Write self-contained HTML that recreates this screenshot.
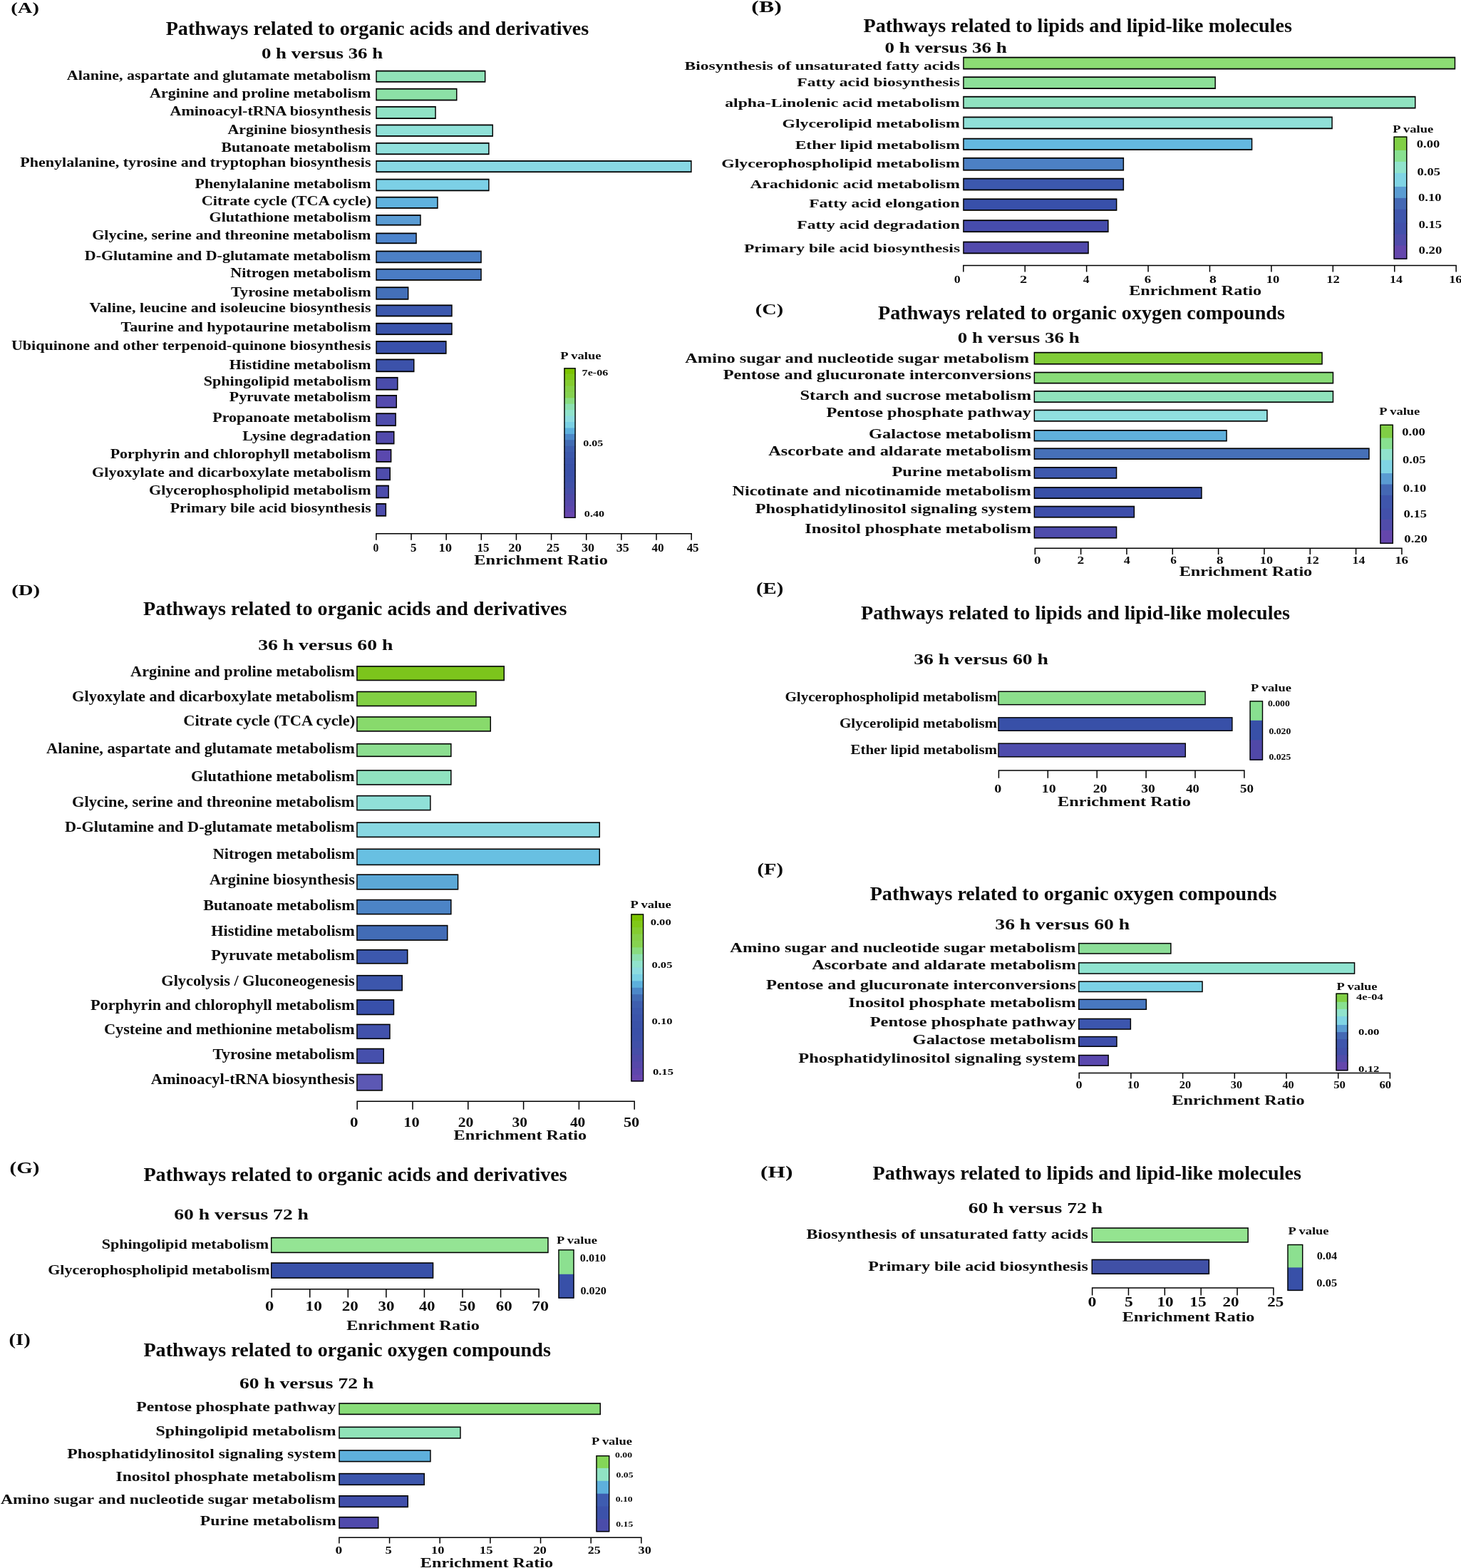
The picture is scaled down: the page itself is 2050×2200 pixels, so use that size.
<!DOCTYPE html>
<html lang="en"><head><meta charset="utf-8"><title>Pathway enrichment analysis</title>
<style>
html,body{margin:0;padding:0;background:#fff}
body{width:2050px;height:2200px;overflow:hidden}
svg{display:block;filter:blur(0.45px);font-family:"Liberation Serif","DejaVu Serif",serif;font-weight:bold;fill:#0a0a0a}
</style></head><body>
<svg width="2050" height="2200" viewBox="0 0 2050 2200">
<rect width="2050" height="2200" fill="#fff"/>
<text transform="translate(15.32 17.50) scale(1.3854 1)" font-size="20.60">(A)</text>
<text transform="translate(232.68 49.40) scale(1.0506 1)" font-size="26.80">Pathways related to organic acids and derivatives</text>
<text transform="translate(366.92 81.50) scale(1.3455 1)" font-size="20.00">0 h versus 36 h</text>
<text transform="translate(93.78 112.40) scale(1.1160 1)" font-size="19.70">Alanine, aspartate and glutamate metabolism</text>
<text transform="translate(210.08 136.60) scale(1.1164 1)" font-size="19.70">Arginine and proline metabolism</text>
<text transform="translate(238.48 162.30) scale(1.1189 1)" font-size="19.70">Aminoacyl-tRNA biosynthesis</text>
<text transform="translate(319.48 187.70) scale(1.1117 1)" font-size="19.70">Arginine biosynthesis</text>
<text transform="translate(310.47 213.30) scale(1.1136 1)" font-size="19.70">Butanoate metabolism</text>
<text transform="translate(28.27 233.80) scale(1.1188 1)" font-size="19.70">Phenylalanine, tyrosine and tryptophan biosynthesis</text>
<text transform="translate(273.47 264.10) scale(1.1152 1)" font-size="19.70">Phenylalanine metabolism</text>
<text transform="translate(282.69 287.80) scale(1.1272 1)" font-size="19.70">Citrate cycle (TCA cycle)</text>
<text transform="translate(293.50 310.50) scale(1.1188 1)" font-size="19.70">Glutathione metabolism</text>
<text transform="translate(129.20 335.60) scale(1.1207 1)" font-size="19.70">Glycine, serine and threonine metabolism</text>
<text transform="translate(118.77 365.30) scale(1.1181 1)" font-size="19.70">D-Glutamine and D-glutamate metabolism</text>
<text transform="translate(323.26 389.10) scale(1.1194 1)" font-size="19.70">Nitrogen metabolism</text>
<rect x="527.30" y="98.70" width="154.10" height="17.00" fill="#000"/>
<rect x="528.75" y="100.50" width="151.20" height="13.40" fill="#90E3B8"/>
<rect x="527.30" y="123.80" width="114.20" height="17.60" fill="#000"/>
<rect x="528.75" y="125.60" width="111.30" height="14.00" fill="#8CE0A6"/>
<rect x="527.30" y="148.90" width="84.50" height="18.10" fill="#000"/>
<rect x="528.75" y="150.70" width="81.60" height="14.50" fill="#90E3C6"/>
<rect x="527.30" y="174.50" width="164.70" height="17.30" fill="#000"/>
<rect x="528.75" y="176.30" width="161.80" height="13.70" fill="#90E1D8"/>
<rect x="527.30" y="199.90" width="159.30" height="17.30" fill="#000"/>
<rect x="528.75" y="201.70" width="156.40" height="13.70" fill="#90E0DC"/>
<rect x="527.30" y="225.00" width="443.30" height="17.10" fill="#000"/>
<rect x="528.75" y="226.80" width="440.40" height="13.50" fill="#88D8E4"/>
<rect x="527.30" y="250.70" width="159.30" height="17.60" fill="#000"/>
<rect x="528.75" y="252.50" width="156.40" height="14.00" fill="#7CD0E6"/>
<rect x="527.30" y="275.80" width="87.40" height="17.00" fill="#000"/>
<rect x="528.75" y="277.60" width="84.50" height="13.40" fill="#60B2DE"/>
<rect x="527.30" y="301.10" width="63.40" height="15.50" fill="#000"/>
<rect x="528.75" y="302.90" width="60.50" height="11.90" fill="#5A9CD4"/>
<rect x="527.30" y="326.50" width="57.50" height="15.70" fill="#000"/>
<rect x="528.75" y="328.30" width="54.60" height="12.10" fill="#4C84CC"/>
<rect x="527.30" y="351.60" width="148.50" height="17.60" fill="#000"/>
<rect x="528.75" y="353.40" width="145.60" height="14.00" fill="#4C80C6"/>
<rect x="527.30" y="376.70" width="148.50" height="17.10" fill="#000"/>
<rect x="528.75" y="378.50" width="145.60" height="13.50" fill="#4A7CC4"/>
<rect x="527.30" y="402.30" width="46.10" height="18.40" fill="#000"/>
<rect x="528.75" y="404.10" width="43.20" height="14.80" fill="#4470B8"/>
<rect x="527.30" y="427.40" width="107.40" height="17.00" fill="#000"/>
<rect x="528.75" y="429.20" width="104.50" height="13.40" fill="#3C58AE"/>
<rect x="527.30" y="452.80" width="107.40" height="17.30" fill="#000"/>
<rect x="528.75" y="454.60" width="104.50" height="13.70" fill="#3A54AC"/>
<rect x="527.30" y="478.10" width="99.30" height="18.70" fill="#000"/>
<rect x="528.75" y="479.90" width="96.40" height="15.10" fill="#3850AA"/>
<rect x="527.30" y="503.50" width="54.20" height="18.70" fill="#000"/>
<rect x="528.75" y="505.30" width="51.30" height="15.10" fill="#3C52AA"/>
<rect x="527.30" y="528.90" width="31.30" height="18.70" fill="#000"/>
<rect x="528.75" y="530.70" width="28.40" height="15.10" fill="#4A4CAC"/>
<rect x="527.30" y="554.00" width="29.70" height="18.70" fill="#000"/>
<rect x="528.75" y="555.80" width="26.80" height="15.10" fill="#544AAE"/>
<rect x="527.30" y="579.30" width="28.60" height="18.80" fill="#000"/>
<rect x="528.75" y="581.10" width="25.70" height="15.20" fill="#4E4CAC"/>
<rect x="527.30" y="604.80" width="26.20" height="18.60" fill="#000"/>
<rect x="528.75" y="606.60" width="23.30" height="15.00" fill="#524AAC"/>
<rect x="527.30" y="630.10" width="22.10" height="18.70" fill="#000"/>
<rect x="528.75" y="631.90" width="19.20" height="15.10" fill="#5A48AE"/>
<rect x="527.30" y="655.50" width="20.70" height="18.70" fill="#000"/>
<rect x="528.75" y="657.30" width="17.80" height="15.10" fill="#4E4CAC"/>
<rect x="527.30" y="680.60" width="18.60" height="18.70" fill="#000"/>
<rect x="528.75" y="682.40" width="15.70" height="15.10" fill="#4C4CAC"/>
<rect x="527.30" y="706.00" width="14.80" height="18.70" fill="#000"/>
<rect x="528.75" y="707.80" width="11.90" height="15.10" fill="#4C4CAC"/>
<path d="M527.30 748.80H971.00M527.90 748.05V757.70M577.04 748.05V757.70M626.18 748.05V757.70M675.32 748.05V757.70M724.46 748.05V757.70M773.60 748.05V757.70M822.74 748.05V757.70M871.88 748.05V757.70M921.02 748.05V757.70M970.16 748.05V757.70" fill="none" stroke="#000" stroke-width="1.50"/>
<text transform="translate(523.47 773.90) scale(0.9821 1)" font-size="16.00">0</text>
<text transform="translate(576.02 773.90) scale(1.0588 1)" font-size="16.00">5</text>
<text transform="translate(615.41 773.90) scale(1.1648 1)" font-size="16.00">10</text>
<text transform="translate(669.54 773.90) scale(1.0664 1)" font-size="16.00">15</text>
<text transform="translate(713.15 773.90) scale(1.1685 1)" font-size="16.00">20</text>
<text transform="translate(766.87 773.90) scale(1.1419 1)" font-size="16.00">25</text>
<text transform="translate(816.07 773.90) scale(1.1284 1)" font-size="16.00">30</text>
<text transform="translate(864.67 773.90) scale(1.1223 1)" font-size="16.00">35</text>
<text transform="translate(914.44 773.90) scale(1.0714 1)" font-size="16.00">40</text>
<text transform="translate(963.65 773.90) scale(1.0592 1)" font-size="16.00">45</text>
<text transform="translate(665.33 791.50) scale(1.3110 1)" font-size="18.60">Enrichment Ratio</text>
<rect x="791.60" y="516.10" width="15.90" height="9.64" fill="#7CC400"/>
<rect x="791.60" y="524.54" width="15.90" height="9.64" fill="#80C818"/>
<rect x="791.60" y="532.97" width="15.90" height="9.64" fill="#84CC30"/>
<rect x="791.60" y="541.41" width="15.90" height="9.64" fill="#86D048"/>
<rect x="791.60" y="549.84" width="15.90" height="9.64" fill="#86D250"/>
<rect x="791.60" y="558.28" width="15.90" height="9.64" fill="#88DC80"/>
<rect x="791.60" y="566.72" width="15.90" height="9.64" fill="#8CE0B0"/>
<rect x="791.60" y="575.15" width="15.90" height="9.64" fill="#90E3CC"/>
<rect x="791.60" y="583.59" width="15.90" height="9.64" fill="#8CDCE0"/>
<rect x="791.60" y="592.02" width="15.90" height="9.64" fill="#7AD0E4"/>
<rect x="791.60" y="600.46" width="15.90" height="9.64" fill="#5CB0DC"/>
<rect x="791.60" y="608.90" width="15.90" height="9.64" fill="#4C88C8"/>
<rect x="791.60" y="617.33" width="15.90" height="9.64" fill="#426CB4"/>
<rect x="791.60" y="625.77" width="15.90" height="9.64" fill="#3E5EAE"/>
<rect x="791.60" y="634.20" width="15.90" height="9.64" fill="#3C58AC"/>
<rect x="791.60" y="642.64" width="15.90" height="9.64" fill="#3B54AA"/>
<rect x="791.60" y="651.08" width="15.90" height="9.64" fill="#3A52A8"/>
<rect x="791.60" y="659.51" width="15.90" height="9.64" fill="#3A50A8"/>
<rect x="791.60" y="667.95" width="15.90" height="9.64" fill="#3C50A8"/>
<rect x="791.60" y="676.38" width="15.90" height="9.64" fill="#4050A8"/>
<rect x="791.60" y="684.82" width="15.90" height="9.64" fill="#464EA8"/>
<rect x="791.60" y="693.26" width="15.90" height="9.64" fill="#4E4AA8"/>
<rect x="791.60" y="701.69" width="15.90" height="9.64" fill="#5648AA"/>
<rect x="791.60" y="710.13" width="15.90" height="9.64" fill="#5E46AC"/>
<rect x="791.60" y="718.56" width="15.90" height="8.44" fill="#6846AE"/>
<rect x="792.00" y="516.80" width="15.10" height="209.50" fill="none" stroke="#000" stroke-width="1.40"/>
<text transform="translate(786.22 504.20) scale(1.1992 1)" font-size="15.50">P value</text>
<text transform="translate(816.61 526.90) scale(1.2399 1)" font-size="13.00">7e-06</text>
<text transform="translate(818.26 626.00) scale(1.2354 1)" font-size="13.00">0.05</text>
<text transform="translate(819.86 724.80) scale(1.2391 1)" font-size="13.00">0.40</text>
<text transform="translate(323.97 415.70) scale(1.1248 1)" font-size="19.70">Tyrosine metabolism</text>
<text transform="translate(125.58 437.80) scale(1.1219 1)" font-size="19.70">Valine, leucine and isoleucine biosynthesis</text>
<text transform="translate(169.47 464.80) scale(1.1225 1)" font-size="19.70">Taurine and hypotaurine metabolism</text>
<text transform="translate(15.95 491.30) scale(1.1175 1)" font-size="19.70">Ubiquinone and other terpenoid-quinone biosynthesis</text>
<text transform="translate(321.77 517.80) scale(1.1117 1)" font-size="19.70">Histidine metabolism</text>
<text transform="translate(285.79 541.20) scale(1.1204 1)" font-size="19.70">Sphingolipid metabolism</text>
<text transform="translate(321.77 563.40) scale(1.1117 1)" font-size="19.70">Pyruvate metabolism</text>
<text transform="translate(298.27 592.00) scale(1.1159 1)" font-size="19.70">Propanoate metabolism</text>
<text transform="translate(340.17 618.20) scale(1.1178 1)" font-size="19.70">Lysine degradation</text>
<text transform="translate(154.67 643.30) scale(1.1177 1)" font-size="19.70">Porphyrin and chlorophyll metabolism</text>
<text transform="translate(129.10 668.70) scale(1.1200 1)" font-size="19.70">Glyoxylate and dicarboxylate metabolism</text>
<text transform="translate(209.00 693.80) scale(1.1203 1)" font-size="19.70">Glycerophospholipid metabolism</text>
<text transform="translate(238.67 719.20) scale(1.1138 1)" font-size="19.70">Primary bile acid biosynthesis</text>
<text transform="translate(1054.37 17.00) scale(1.3829 1)" font-size="23.00">(B)</text>
<text transform="translate(1211.48 45.40) scale(1.0506 1)" font-size="26.80">Pathways related to lipids and lipid-like molecules</text>
<text transform="translate(1241.62 74.10) scale(1.3174 1)" font-size="20.50">0 h versus 36 h</text>
<text transform="translate(960.55 98.00) scale(1.3355 1)" font-size="17.60">Biosynthesis of unsaturated fatty acids</text>
<text transform="translate(1118.35 120.70) scale(1.3364 1)" font-size="17.60">Fatty acid biosynthesis</text>
<text transform="translate(1017.29 149.80) scale(1.3433 1)" font-size="17.60">alpha-Linolenic acid metabolism</text>
<text transform="translate(1097.51 178.70) scale(1.3486 1)" font-size="17.60">Glycerolipid metabolism</text>
<text transform="translate(1115.65 209.40) scale(1.3384 1)" font-size="17.60">Ether lipid metabolism</text>
<text transform="translate(1012.32 234.70) scale(1.3462 1)" font-size="17.60">Glycerophospholipid metabolism</text>
<text transform="translate(1052.56 264.30) scale(1.3382 1)" font-size="17.60">Arachidonic acid metabolism</text>
<text transform="translate(1135.25 290.80) scale(1.3359 1)" font-size="17.60">Fatty acid elongation</text>
<text transform="translate(1118.35 321.10) scale(1.3357 1)" font-size="17.60">Fatty acid degradation</text>
<text transform="translate(1043.95 354.10) scale(1.3393 1)" font-size="17.60">Primary bile acid biosynthesis</text>
<rect x="1351.20" y="79.70" width="691.00" height="17.80" fill="#000"/>
<rect x="1352.65" y="81.50" width="688.10" height="14.20" fill="#8CDC74"/>
<rect x="1351.20" y="107.30" width="354.70" height="17.70" fill="#000"/>
<rect x="1352.65" y="109.10" width="351.80" height="14.10" fill="#8CE098"/>
<rect x="1351.20" y="134.80" width="635.30" height="17.70" fill="#000"/>
<rect x="1352.65" y="136.60" width="632.40" height="14.10" fill="#90E3C0"/>
<rect x="1351.20" y="163.50" width="518.60" height="17.70" fill="#000"/>
<rect x="1352.65" y="165.30" width="515.70" height="14.10" fill="#90E0D8"/>
<rect x="1351.20" y="193.70" width="406.10" height="17.20" fill="#000"/>
<rect x="1352.65" y="195.50" width="403.20" height="13.60" fill="#64B8E0"/>
<rect x="1351.20" y="220.90" width="225.90" height="18.70" fill="#000"/>
<rect x="1352.65" y="222.70" width="223.00" height="15.10" fill="#4C80C4"/>
<rect x="1351.20" y="249.70" width="225.90" height="17.70" fill="#000"/>
<rect x="1352.65" y="251.50" width="223.00" height="14.10" fill="#3C58AE"/>
<rect x="1351.20" y="278.40" width="216.20" height="17.40" fill="#000"/>
<rect x="1352.65" y="280.20" width="213.30" height="13.80" fill="#3850AA"/>
<rect x="1351.20" y="308.30" width="204.40" height="17.80" fill="#000"/>
<rect x="1352.65" y="310.10" width="201.50" height="14.20" fill="#464CAC"/>
<rect x="1351.20" y="338.60" width="176.60" height="17.70" fill="#000"/>
<rect x="1352.65" y="340.40" width="173.70" height="14.10" fill="#524AAC"/>
<path d="M1351.20 372.50H2043.60M1351.80 371.75V381.60M1438.22 371.75V381.60M1524.64 371.75V381.60M1611.06 371.75V381.60M1697.48 371.75V381.60M1783.90 371.75V381.60M1870.32 371.75V381.60M1956.74 371.75V381.60M2043.16 371.75V381.60" fill="none" stroke="#000" stroke-width="1.50"/>
<text transform="translate(1338.79 396.80) scale(1.1521 1)" font-size="15.50">0</text>
<text transform="translate(1430.89 396.80) scale(1.3057 1)" font-size="15.50">2</text>
<text transform="translate(1519.64 396.80) scale(1.1377 1)" font-size="15.50">4</text>
<text transform="translate(1605.74 396.80) scale(1.2162 1)" font-size="15.50">6</text>
<text transform="translate(1697.01 396.80) scale(1.2753 1)" font-size="15.50">8</text>
<text transform="translate(1776.72 396.80) scale(1.1950 1)" font-size="15.50">10</text>
<text transform="translate(1861.31 396.80) scale(1.2023 1)" font-size="15.50">12</text>
<text transform="translate(1949.97 396.80) scale(1.1541 1)" font-size="15.50">14</text>
<text transform="translate(2033.13 396.80) scale(1.1888 1)" font-size="15.50">16</text>
<text transform="translate(1584.14 413.60) scale(1.3290 1)" font-size="18.20">Enrichment Ratio</text>
<rect x="1955.70" y="191.40" width="18.50" height="20.68" fill="#80CF45"/>
<rect x="1955.70" y="210.88" width="18.50" height="17.18" fill="#88E090"/>
<rect x="1955.70" y="226.86" width="18.50" height="17.18" fill="#90E3CC"/>
<rect x="1955.70" y="242.84" width="18.50" height="20.28" fill="#80D4E4"/>
<rect x="1955.70" y="261.93" width="18.50" height="17.16" fill="#5A9CD2"/>
<rect x="1955.70" y="277.89" width="18.50" height="16.99" fill="#4468B4"/>
<rect x="1955.70" y="293.68" width="18.50" height="20.47" fill="#3F56AC"/>
<rect x="1955.70" y="312.96" width="18.50" height="16.89" fill="#4250AA"/>
<rect x="1955.70" y="328.65" width="18.50" height="16.97" fill="#504CAA"/>
<rect x="1955.70" y="344.42" width="18.50" height="19.38" fill="#6446AC"/>
<rect x="1956.10" y="192.10" width="17.70" height="171.00" fill="none" stroke="#000" stroke-width="1.40"/>
<text transform="translate(1954.22 185.90) scale(1.1907 1)" font-size="15.50">P value</text>
<text transform="translate(1987.86 207.10) scale(1.2335 1)" font-size="15.00">0.00</text>
<text transform="translate(1988.56 245.50) scale(1.2338 1)" font-size="15.00">0.05</text>
<text transform="translate(1989.95 282.40) scale(1.2455 1)" font-size="15.00">0.10</text>
<text transform="translate(1990.55 320.20) scale(1.2418 1)" font-size="15.00">0.15</text>
<text transform="translate(1990.55 355.60) scale(1.2455 1)" font-size="15.00">0.20</text>
<text transform="translate(1059.83 440.90) scale(1.3742 1)" font-size="20.60">(C)</text>
<text transform="translate(1232.08 448.40) scale(1.0505 1)" font-size="26.80">Pathways related to organic oxygen compounds</text>
<text transform="translate(1343.82 481.00) scale(1.3166 1)" font-size="20.50">0 h versus 36 h</text>
<text transform="translate(961.26 509.10) scale(1.3682 1)" font-size="17.80">Amino sugar and nucleotide sugar metabolism</text>
<text transform="translate(1014.63 532.30) scale(1.3682 1)" font-size="17.80">Pentose and glucuronate interconversions</text>
<text transform="translate(1122.45 560.50) scale(1.3752 1)" font-size="17.80">Starch and sucrose metabolism</text>
<text transform="translate(1159.44 584.70) scale(1.3652 1)" font-size="17.80">Pentose phosphate pathway</text>
<text transform="translate(1219.08 614.90) scale(1.3697 1)" font-size="17.80">Galactose metabolism</text>
<text transform="translate(1078.26 639.10) scale(1.3644 1)" font-size="17.80">Ascorbate and aldarate metabolism</text>
<text transform="translate(1251.44 668.10) scale(1.3609 1)" font-size="17.80">Purine metabolism</text>
<text transform="translate(1027.51 695.00) scale(1.3671 1)" font-size="17.80">Nicotinate and nicotinamide metabolism</text>
<text transform="translate(1059.64 720.10) scale(1.3654 1)" font-size="17.80">Phosphatidylinositol signaling system</text>
<text transform="translate(1129.35 748.30) scale(1.3677 1)" font-size="17.80">Inositol phosphate metabolism</text>
<rect x="1450.60" y="493.80" width="405.20" height="17.80" fill="#000"/>
<rect x="1452.05" y="495.50" width="402.30" height="14.40" fill="#80CC38"/>
<rect x="1450.60" y="521.70" width="420.60" height="16.80" fill="#000"/>
<rect x="1452.05" y="523.40" width="417.70" height="13.40" fill="#88DC78"/>
<rect x="1450.60" y="548.00" width="420.60" height="17.10" fill="#000"/>
<rect x="1452.05" y="549.70" width="417.70" height="13.70" fill="#90E3BC"/>
<rect x="1450.60" y="574.60" width="328.10" height="17.10" fill="#000"/>
<rect x="1452.05" y="576.30" width="325.20" height="13.70" fill="#90E0E0"/>
<rect x="1450.60" y="603.00" width="271.20" height="16.50" fill="#000"/>
<rect x="1452.05" y="604.70" width="268.30" height="13.10" fill="#60B0DC"/>
<rect x="1450.60" y="628.40" width="471.10" height="16.50" fill="#000"/>
<rect x="1452.05" y="630.10" width="468.20" height="13.10" fill="#4670B8"/>
<rect x="1450.60" y="655.00" width="116.70" height="16.80" fill="#000"/>
<rect x="1452.05" y="656.70" width="113.80" height="13.40" fill="#3E58AE"/>
<rect x="1450.60" y="683.10" width="236.10" height="16.90" fill="#000"/>
<rect x="1452.05" y="684.80" width="233.20" height="13.50" fill="#3850A8"/>
<rect x="1450.60" y="709.70" width="141.50" height="16.90" fill="#000"/>
<rect x="1452.05" y="711.40" width="138.60" height="13.50" fill="#3E4EAA"/>
<rect x="1450.60" y="738.50" width="116.70" height="17.10" fill="#000"/>
<rect x="1452.05" y="740.20" width="113.80" height="13.70" fill="#4E4CAC"/>
<path d="M1451.60 769.20H1967.60M1452.30 768.45V778.00M1516.63 768.45V778.00M1580.96 768.45V778.00M1645.29 768.45V778.00M1709.62 768.45V778.00M1773.95 768.45V778.00M1838.28 768.45V778.00M1902.61 768.45V778.00M1966.94 768.45V778.00" fill="none" stroke="#000" stroke-width="1.50"/>
<text transform="translate(1451.00 790.80) scale(1.2135 1)" font-size="15.50">0</text>
<text transform="translate(1511.52 790.80) scale(1.2596 1)" font-size="15.50">2</text>
<text transform="translate(1576.73 790.80) scale(1.1655 1)" font-size="15.50">4</text>
<text transform="translate(1642.29 790.80) scale(1.1272 1)" font-size="15.50">6</text>
<text transform="translate(1706.93 790.80) scale(1.2303 1)" font-size="15.50">8</text>
<text transform="translate(1767.85 790.80) scale(1.1730 1)" font-size="15.50">10</text>
<text transform="translate(1832.55 790.80) scale(1.1730 1)" font-size="15.50">12</text>
<text transform="translate(1897.58 790.80) scale(1.1470 1)" font-size="15.50">14</text>
<text transform="translate(1957.13 790.80) scale(1.2251 1)" font-size="15.50">16</text>
<text transform="translate(1654.64 808.20) scale(1.3334 1)" font-size="18.20">Enrichment Ratio</text>
<rect x="1936.50" y="595.60" width="18.20" height="20.10" fill="#80CF45"/>
<rect x="1936.50" y="614.50" width="18.20" height="16.71" fill="#88E090"/>
<rect x="1936.50" y="630.01" width="18.20" height="16.71" fill="#90E3CC"/>
<rect x="1936.50" y="645.52" width="18.20" height="19.72" fill="#80D4E4"/>
<rect x="1936.50" y="664.04" width="18.20" height="16.69" fill="#5A9CD2"/>
<rect x="1936.50" y="679.53" width="18.20" height="16.52" fill="#4468B4"/>
<rect x="1936.50" y="694.86" width="18.20" height="19.90" fill="#3F56AC"/>
<rect x="1936.50" y="713.56" width="18.20" height="16.42" fill="#4250AA"/>
<rect x="1936.50" y="728.79" width="18.20" height="16.51" fill="#504CAA"/>
<rect x="1936.50" y="744.10" width="18.20" height="18.80" fill="#6446AC"/>
<rect x="1936.90" y="596.30" width="17.40" height="165.90" fill="none" stroke="#000" stroke-width="1.40"/>
<text transform="translate(1935.32 581.90) scale(1.1929 1)" font-size="15.50">P value</text>
<text transform="translate(1967.26 610.50) scale(1.2375 1)" font-size="15.00">0.00</text>
<text transform="translate(1968.06 650.40) scale(1.2338 1)" font-size="15.00">0.05</text>
<text transform="translate(1968.86 689.70) scale(1.2375 1)" font-size="15.00">0.10</text>
<text transform="translate(1969.56 725.70) scale(1.2338 1)" font-size="15.00">0.15</text>
<text transform="translate(1970.36 761.40) scale(1.2375 1)" font-size="15.00">0.20</text>
<text transform="translate(16.20 834.70) scale(1.3112 1)" font-size="22.00">(D)</text>
<text transform="translate(201.08 862.90) scale(1.0517 1)" font-size="26.80">Pathways related to organic acids and derivatives</text>
<text transform="translate(362.23 911.60) scale(1.3307 1)" font-size="20.80">36 h versus 60 h</text>
<text transform="translate(183.08 948.60) scale(1.0924 1)" font-size="20.40">Arginine and proline metabolism</text>
<text transform="translate(101.08 984.30) scale(1.0957 1)" font-size="20.40">Glyoxylate and dicarboxylate metabolism</text>
<text transform="translate(257.18 1018.10) scale(1.1005 1)" font-size="20.40">Citrate cycle (TCA cycle)</text>
<text transform="translate(65.08 1057.40) scale(1.0924 1)" font-size="20.40">Alanine, aspartate and glutamate metabolism</text>
<text transform="translate(267.99 1095.50) scale(1.0929 1)" font-size="20.40">Glutathione metabolism</text>
<text transform="translate(101.08 1131.50) scale(1.0967 1)" font-size="20.40">Glycine, serine and threonine metabolism</text>
<text transform="translate(90.97 1166.60) scale(1.0929 1)" font-size="20.40">D-Glutamine and D-glutamate metabolism</text>
<text transform="translate(298.66 1205.30) scale(1.0904 1)" font-size="20.40">Nitrogen metabolism</text>
<text transform="translate(293.98 1241.20) scale(1.0874 1)" font-size="20.40">Arginine biosynthesis</text>
<text transform="translate(285.17 1277.20) scale(1.0877 1)" font-size="20.40">Butanoate metabolism</text>
<text transform="translate(296.27 1312.90) scale(1.0876 1)" font-size="20.40">Histidine metabolism</text>
<text transform="translate(296.27 1347.10) scale(1.0876 1)" font-size="20.40">Pyruvate metabolism</text>
<text transform="translate(226.28 1382.70) scale(1.0943 1)" font-size="20.40">Glycolysis / Gluconeogenesis</text>
<text transform="translate(126.97 1416.90) scale(1.0936 1)" font-size="20.40">Porphyrin and chlorophyll metabolism</text>
<text transform="translate(145.88 1451.10) scale(1.0954 1)" font-size="20.40">Cysteine and methionine metabolism</text>
<text transform="translate(298.46 1485.60) scale(1.1007 1)" font-size="20.40">Tyrosine metabolism</text>
<text transform="translate(211.78 1521.20) scale(1.0951 1)" font-size="20.40">Aminoacyl-tRNA biosynthesis</text>
<rect x="500.20" y="934.10" width="207.80" height="21.20" fill="#000"/>
<rect x="501.65" y="935.70" width="204.90" height="18.00" fill="#7CC41C"/>
<rect x="500.20" y="969.70" width="168.50" height="21.60" fill="#000"/>
<rect x="501.65" y="971.30" width="165.60" height="18.40" fill="#82D044"/>
<rect x="500.20" y="1005.10" width="188.80" height="21.60" fill="#000"/>
<rect x="501.65" y="1006.70" width="185.90" height="18.40" fill="#88DA6C"/>
<rect x="500.20" y="1042.90" width="133.40" height="19.20" fill="#000"/>
<rect x="501.65" y="1044.50" width="130.50" height="16.00" fill="#8CDE90"/>
<rect x="500.20" y="1080.10" width="133.40" height="21.60" fill="#000"/>
<rect x="501.65" y="1081.70" width="130.50" height="18.40" fill="#90E3C0"/>
<rect x="500.20" y="1115.80" width="104.40" height="21.60" fill="#000"/>
<rect x="501.65" y="1117.40" width="101.50" height="18.40" fill="#90E0D8"/>
<rect x="500.20" y="1153.30" width="341.80" height="21.90" fill="#000"/>
<rect x="501.65" y="1154.90" width="338.90" height="18.70" fill="#88D8E2"/>
<rect x="500.20" y="1190.50" width="341.80" height="23.70" fill="#000"/>
<rect x="501.65" y="1192.10" width="338.90" height="20.50" fill="#68C0E2"/>
<rect x="500.20" y="1226.40" width="143.10" height="22.20" fill="#000"/>
<rect x="501.65" y="1228.00" width="140.20" height="19.00" fill="#5CA8D6"/>
<rect x="500.20" y="1261.80" width="133.40" height="21.60" fill="#000"/>
<rect x="501.65" y="1263.40" width="130.50" height="18.40" fill="#4C84C6"/>
<rect x="500.20" y="1297.80" width="128.30" height="22.10" fill="#000"/>
<rect x="501.65" y="1299.40" width="125.40" height="18.90" fill="#426CB6"/>
<rect x="500.20" y="1331.90" width="72.30" height="20.70" fill="#000"/>
<rect x="501.65" y="1333.50" width="69.40" height="17.50" fill="#3C58AE"/>
<rect x="500.20" y="1367.90" width="64.80" height="22.50" fill="#000"/>
<rect x="501.65" y="1369.50" width="61.90" height="19.30" fill="#3C56AC"/>
<rect x="500.20" y="1402.10" width="53.00" height="22.20" fill="#000"/>
<rect x="501.65" y="1403.70" width="50.10" height="19.00" fill="#3850AA"/>
<rect x="500.20" y="1436.60" width="47.50" height="21.50" fill="#000"/>
<rect x="501.65" y="1438.20" width="44.60" height="18.30" fill="#4252AC"/>
<rect x="500.20" y="1470.70" width="38.80" height="21.90" fill="#000"/>
<rect x="501.65" y="1472.30" width="35.90" height="18.70" fill="#4650AC"/>
<rect x="500.20" y="1506.70" width="36.70" height="24.00" fill="#000"/>
<rect x="501.65" y="1508.30" width="33.80" height="20.80" fill="#5C58B4"/>
<path d="M500.60 1545.30H890.40M501.20 1544.55V1556.80M579.00 1544.55V1556.80M656.80 1544.55V1556.80M734.60 1544.55V1556.80M812.40 1544.55V1556.80M890.20 1544.55V1556.80" fill="none" stroke="#000" stroke-width="1.50"/>
<text transform="translate(490.88 1581.10) scale(1.1966 1)" font-size="19.30">0</text>
<text transform="translate(566.21 1581.10) scale(1.1599 1)" font-size="19.30">10</text>
<text transform="translate(642.73 1581.10) scale(1.1264 1)" font-size="19.30">20</text>
<text transform="translate(718.45 1581.10) scale(1.1147 1)" font-size="19.30">30</text>
<text transform="translate(799.88 1581.10) scale(1.1130 1)" font-size="19.30">40</text>
<text transform="translate(874.90 1581.10) scale(1.1602 1)" font-size="19.30">50</text>
<text transform="translate(636.54 1599.20) scale(1.3334 1)" font-size="18.20">Enrichment Ratio</text>
<rect x="885.50" y="1282.30" width="17.50" height="10.61" fill="#7CC400"/>
<rect x="885.50" y="1291.71" width="17.50" height="10.61" fill="#80C818"/>
<rect x="885.50" y="1301.12" width="17.50" height="10.61" fill="#84CC30"/>
<rect x="885.50" y="1310.52" width="17.50" height="10.61" fill="#86D048"/>
<rect x="885.50" y="1319.93" width="17.50" height="10.61" fill="#86D250"/>
<rect x="885.50" y="1329.34" width="17.50" height="10.61" fill="#88DC80"/>
<rect x="885.50" y="1338.75" width="17.50" height="10.61" fill="#8CE0B0"/>
<rect x="885.50" y="1348.16" width="17.50" height="10.61" fill="#90E3CC"/>
<rect x="885.50" y="1357.56" width="17.50" height="10.61" fill="#8CDCE0"/>
<rect x="885.50" y="1366.97" width="17.50" height="10.61" fill="#7AD0E4"/>
<rect x="885.50" y="1376.38" width="17.50" height="10.61" fill="#5CB0DC"/>
<rect x="885.50" y="1385.79" width="17.50" height="10.61" fill="#4C88C8"/>
<rect x="885.50" y="1395.20" width="17.50" height="10.61" fill="#426CB4"/>
<rect x="885.50" y="1404.60" width="17.50" height="10.61" fill="#3E5EAE"/>
<rect x="885.50" y="1414.01" width="17.50" height="10.61" fill="#3C58AC"/>
<rect x="885.50" y="1423.42" width="17.50" height="10.61" fill="#3B54AA"/>
<rect x="885.50" y="1432.83" width="17.50" height="10.61" fill="#3A52A8"/>
<rect x="885.50" y="1442.24" width="17.50" height="10.61" fill="#3A50A8"/>
<rect x="885.50" y="1451.64" width="17.50" height="10.61" fill="#3C50A8"/>
<rect x="885.50" y="1461.05" width="17.50" height="10.61" fill="#4050A8"/>
<rect x="885.50" y="1470.46" width="17.50" height="10.61" fill="#464EA8"/>
<rect x="885.50" y="1479.87" width="17.50" height="10.61" fill="#4E4AA8"/>
<rect x="885.50" y="1489.28" width="17.50" height="10.61" fill="#5648AA"/>
<rect x="885.50" y="1498.68" width="17.50" height="10.61" fill="#5E46AC"/>
<rect x="885.50" y="1508.09" width="17.50" height="9.41" fill="#6846AE"/>
<rect x="885.90" y="1283.00" width="16.70" height="233.80" fill="none" stroke="#000" stroke-width="1.40"/>
<text transform="translate(884.62 1274.00) scale(1.1971 1)" font-size="15.50">P value</text>
<text transform="translate(912.63 1297.70) scale(1.2805 1)" font-size="13.00">0.00</text>
<text transform="translate(914.44 1358.10) scale(1.2767 1)" font-size="13.00">0.05</text>
<text transform="translate(914.43 1436.80) scale(1.2805 1)" font-size="13.00">0.10</text>
<text transform="translate(915.94 1507.80) scale(1.2767 1)" font-size="13.00">0.15</text>
<text transform="translate(1061.01 832.60) scale(1.2859 1)" font-size="22.30">(E)</text>
<text transform="translate(1208.08 868.90) scale(1.0515 1)" font-size="26.80">Pathways related to lipids and lipid-like molecules</text>
<text transform="translate(1282.13 931.50) scale(1.3272 1)" font-size="20.80">36 h versus 60 h</text>
<text transform="translate(1101.45 984.20) scale(1.0984 1)" font-size="19.20">Glycerophospholipid metabolism</text>
<text transform="translate(1177.95 1021.00) scale(1.0970 1)" font-size="19.20">Glycerolipid metabolism</text>
<text transform="translate(1193.49 1057.90) scale(1.0917 1)" font-size="19.20">Ether lipid metabolism</text>
<rect x="1400.30" y="969.50" width="291.50" height="19.90" fill="#000"/>
<rect x="1401.65" y="970.95" width="288.80" height="17.00" fill="#8CDE8C"/>
<rect x="1400.30" y="1006.10" width="329.30" height="19.90" fill="#000"/>
<rect x="1401.65" y="1007.55" width="326.60" height="17.00" fill="#3850A8"/>
<rect x="1400.30" y="1042.40" width="263.70" height="20.20" fill="#000"/>
<rect x="1401.65" y="1043.85" width="261.00" height="17.30" fill="#4E4CAC"/>
<path d="M1400.80 1080.90H1746.30M1401.40 1080.15V1091.80M1470.30 1080.15V1091.80M1539.20 1080.15V1091.80M1608.10 1080.15V1091.80M1677.00 1080.15V1091.80M1745.90 1080.15V1091.80" fill="none" stroke="#000" stroke-width="1.50"/>
<text transform="translate(1395.30 1111.50) scale(1.1429 1)" font-size="17.50">0</text>
<text transform="translate(1461.86 1111.50) scale(1.1364 1)" font-size="17.50">10</text>
<text transform="translate(1533.76 1111.50) scale(1.1242 1)" font-size="17.50">20</text>
<text transform="translate(1601.27 1111.50) scale(1.1181 1)" font-size="17.50">30</text>
<text transform="translate(1664.27 1111.50) scale(1.0582 1)" font-size="17.50">40</text>
<text transform="translate(1739.99 1111.50) scale(1.0870 1)" font-size="17.50">50</text>
<text transform="translate(1483.94 1130.50) scale(1.3355 1)" font-size="18.20">Enrichment Ratio</text>
<rect x="1753.70" y="983.20" width="18.20" height="28.80" fill="#88E090"/>
<rect x="1753.70" y="1010.80" width="18.20" height="28.70" fill="#3850A8"/>
<rect x="1753.70" y="1038.30" width="18.20" height="28.40" fill="#5048A8"/>
<rect x="1754.10" y="983.90" width="17.40" height="82.10" fill="none" stroke="#000" stroke-width="1.40"/>
<text transform="translate(1755.02 969.80) scale(1.1907 1)" font-size="15.50">P value</text>
<text transform="translate(1778.95 991.10) scale(1.0564 1)" font-size="13.00">0.000</text>
<text transform="translate(1780.45 1029.50) scale(1.0564 1)" font-size="13.00">0.020</text>
<text transform="translate(1780.45 1065.50) scale(1.0539 1)" font-size="13.00">0.025</text>
<text transform="translate(1062.52 1227.20) scale(1.2661 1)" font-size="22.50">(F)</text>
<text transform="translate(1220.68 1262.60) scale(1.0505 1)" font-size="26.80">Pathways related to organic oxygen compounds</text>
<text transform="translate(1396.33 1303.70) scale(1.3279 1)" font-size="20.80">36 h versus 60 h</text>
<text transform="translate(1024.26 1335.60) scale(1.3241 1)" font-size="18.50">Amino sugar and nucleotide sugar metabolism</text>
<text transform="translate(1139.16 1359.80) scale(1.3192 1)" font-size="18.50">Ascorbate and aldarate metabolism</text>
<text transform="translate(1074.93 1388.00) scale(1.3238 1)" font-size="18.50">Pentose and glucuronate interconversions</text>
<text transform="translate(1190.54 1413.10) scale(1.3222 1)" font-size="18.50">Inositol phosphate metabolism</text>
<text transform="translate(1220.63 1440.30) scale(1.3205 1)" font-size="18.50">Pentose phosphate pathway</text>
<text transform="translate(1280.57 1465.10) scale(1.3249 1)" font-size="18.50">Galactose metabolism</text>
<text transform="translate(1120.23 1491.40) scale(1.3209 1)" font-size="18.50">Phosphatidylinositol signaling system</text>
<rect x="1513.00" y="1322.90" width="130.60" height="15.80" fill="#000"/>
<rect x="1514.45" y="1324.40" width="127.70" height="12.80" fill="#8CDE98"/>
<rect x="1513.00" y="1350.10" width="388.30" height="16.70" fill="#000"/>
<rect x="1514.45" y="1351.60" width="385.40" height="13.70" fill="#90E3D0"/>
<rect x="1513.00" y="1376.40" width="174.80" height="15.80" fill="#000"/>
<rect x="1514.45" y="1377.90" width="171.90" height="12.80" fill="#7CD2E6"/>
<rect x="1513.00" y="1401.50" width="96.10" height="15.50" fill="#000"/>
<rect x="1514.45" y="1403.00" width="93.20" height="12.50" fill="#4878C0"/>
<rect x="1513.00" y="1428.70" width="74.10" height="16.10" fill="#000"/>
<rect x="1514.45" y="1430.20" width="71.20" height="13.10" fill="#3C56AE"/>
<rect x="1513.00" y="1453.80" width="54.70" height="15.20" fill="#000"/>
<rect x="1514.45" y="1455.30" width="51.80" height="12.20" fill="#3E4EAA"/>
<rect x="1513.00" y="1479.80" width="42.90" height="16.10" fill="#000"/>
<rect x="1514.45" y="1481.30" width="40.00" height="13.10" fill="#5A48AE"/>
<path d="M1513.60 1505.40H1950.90M1514.20 1504.65V1513.60M1586.90 1504.65V1513.60M1659.60 1504.65V1513.60M1732.30 1504.65V1513.60M1805.00 1504.65V1513.60M1877.70 1504.65V1513.60M1950.40 1504.65V1513.60" fill="none" stroke="#000" stroke-width="1.50"/>
<text transform="translate(1509.48 1526.60) scale(1.2925 1)" font-size="14.00">0</text>
<text transform="translate(1581.75 1526.60) scale(1.2013 1)" font-size="14.00">10</text>
<text transform="translate(1654.79 1526.60) scale(1.1724 1)" font-size="14.00">20</text>
<text transform="translate(1726.78 1526.60) scale(1.1660 1)" font-size="14.00">30</text>
<text transform="translate(1799.46 1526.60) scale(1.1640 1)" font-size="14.00">40</text>
<text transform="translate(1871.23 1526.60) scale(1.1957 1)" font-size="14.00">50</text>
<text transform="translate(1935.42 1526.60) scale(1.1892 1)" font-size="14.00">60</text>
<text transform="translate(1644.44 1549.80) scale(1.3312 1)" font-size="18.20">Enrichment Ratio</text>
<rect x="1874.60" y="1393.50" width="16.70" height="13.51" fill="#80CF45"/>
<rect x="1874.60" y="1405.81" width="16.70" height="11.30" fill="#88E090"/>
<rect x="1874.60" y="1415.90" width="16.70" height="11.30" fill="#90E3CC"/>
<rect x="1874.60" y="1426.00" width="16.70" height="13.26" fill="#80D4E4"/>
<rect x="1874.60" y="1438.05" width="16.70" height="11.28" fill="#5A9CD2"/>
<rect x="1874.60" y="1448.14" width="16.70" height="11.18" fill="#4468B4"/>
<rect x="1874.60" y="1458.11" width="16.70" height="13.38" fill="#3F56AC"/>
<rect x="1874.60" y="1470.29" width="16.70" height="11.11" fill="#4250AA"/>
<rect x="1874.60" y="1480.20" width="16.70" height="11.16" fill="#504CAA"/>
<rect x="1874.60" y="1490.16" width="16.70" height="12.24" fill="#6446AC"/>
<rect x="1875.00" y="1394.20" width="15.90" height="107.50" fill="none" stroke="#000" stroke-width="1.40"/>
<text transform="translate(1875.52 1388.60) scale(1.1929 1)" font-size="15.50">P value</text>
<text transform="translate(1903.05 1402.60) scale(1.2706 1)" font-size="13.00">4e-04</text>
<text transform="translate(1906.03 1451.90) scale(1.2943 1)" font-size="13.00">0.00</text>
<text transform="translate(1906.03 1503.60) scale(1.2943 1)" font-size="13.00">0.12</text>
<text transform="translate(13.59 1646.40) scale(1.2186 1)" font-size="23.80">(G)</text>
<text transform="translate(201.38 1656.90) scale(1.0517 1)" font-size="26.80">Pathways related to organic acids and derivatives</text>
<text transform="translate(244.23 1710.70) scale(1.3286 1)" font-size="20.80">60 h versus 72 h</text>
<text transform="translate(142.69 1752.10) scale(1.2315 1)" font-size="17.90">Sphingolipid metabolism</text>
<text transform="translate(67.20 1787.80) scale(1.2322 1)" font-size="17.90">Glycerophospholipid metabolism</text>
<rect x="380.00" y="1735.80" width="389.70" height="22.40" fill="#000"/>
<rect x="381.45" y="1737.40" width="386.80" height="19.20" fill="#94E494"/>
<rect x="380.00" y="1771.20" width="228.30" height="22.60" fill="#000"/>
<rect x="381.45" y="1772.80" width="225.40" height="19.40" fill="#3850A8"/>
<path d="M380.60 1808.70H756.50M381.20 1807.95V1820.50M434.76 1807.95V1820.50M488.32 1807.95V1820.50M541.88 1807.95V1820.50M595.44 1807.95V1820.50M649.00 1807.95V1820.50M702.56 1807.95V1820.50M756.12 1807.95V1820.50" fill="none" stroke="#000" stroke-width="1.50"/>
<text transform="translate(371.97 1839.20) scale(1.2449 1)" font-size="19.70">0</text>
<text transform="translate(428.53 1839.20) scale(1.1883 1)" font-size="19.70">10</text>
<text transform="translate(479.68 1839.20) scale(1.1697 1)" font-size="19.70">20</text>
<text transform="translate(530.60 1839.20) scale(1.1634 1)" font-size="19.70">30</text>
<text transform="translate(587.96 1839.20) scale(1.1388 1)" font-size="19.70">40</text>
<text transform="translate(644.18 1839.20) scale(1.1697 1)" font-size="19.70">50</text>
<text transform="translate(695.70 1839.20) scale(1.1634 1)" font-size="19.70">60</text>
<text transform="translate(745.98 1839.20) scale(1.2228 1)" font-size="19.70">70</text>
<text transform="translate(486.34 1865.80) scale(1.3334 1)" font-size="18.20">Enrichment Ratio</text>
<rect x="783.60" y="1753.00" width="21.80" height="36.00" fill="#8CE090"/>
<rect x="783.60" y="1787.80" width="21.80" height="33.90" fill="#3850A8"/>
<rect x="784.00" y="1753.70" width="21.00" height="67.30" fill="none" stroke="#000" stroke-width="1.40"/>
<text transform="translate(780.92 1744.80) scale(1.1929 1)" font-size="15.50">P value</text>
<text transform="translate(813.85 1770.00) scale(1.0783 1)" font-size="15.00">0.010</text>
<text transform="translate(814.45 1816.20) scale(1.0783 1)" font-size="15.00">0.020</text>
<text transform="translate(1067.09 1651.50) scale(1.4129 1)" font-size="22.20">(H)</text>
<text transform="translate(1224.48 1655.40) scale(1.0508 1)" font-size="26.80">Pathways related to lipids and lipid-like molecules</text>
<text transform="translate(1358.63 1702.20) scale(1.3257 1)" font-size="20.80">60 h versus 72 h</text>
<text transform="translate(1131.54 1738.30) scale(1.3510 1)" font-size="17.80">Biosynthesis of unsaturated fatty acids</text>
<text transform="translate(1218.34 1782.50) scale(1.3484 1)" font-size="17.80">Primary bile acid biosynthesis</text>
<rect x="1531.50" y="1722.25" width="220.40" height="21.40" fill="#000"/>
<rect x="1532.95" y="1723.80" width="217.50" height="18.30" fill="#94E490"/>
<rect x="1531.50" y="1766.65" width="165.60" height="21.40" fill="#000"/>
<rect x="1532.95" y="1768.20" width="162.70" height="18.30" fill="#4050A6"/>
<path d="M1532.00 1806.90H1787.30M1532.60 1806.15V1817.40M1583.46 1806.15V1817.40M1634.32 1806.15V1817.40M1685.18 1806.15V1817.40M1736.04 1806.15V1817.40M1786.90 1806.15V1817.40" fill="none" stroke="#000" stroke-width="1.50"/>
<text transform="translate(1526.55 1833.20) scale(1.2337 1)" font-size="19.30">0</text>
<text transform="translate(1577.96 1833.20) scale(1.2191 1)" font-size="19.30">5</text>
<text transform="translate(1623.60 1833.20) scale(1.1952 1)" font-size="19.30">10</text>
<text transform="translate(1669.24 1833.20) scale(1.2061 1)" font-size="19.30">15</text>
<text transform="translate(1715.58 1833.20) scale(1.1940 1)" font-size="19.30">20</text>
<text transform="translate(1778.18 1833.20) scale(1.1875 1)" font-size="19.30">25</text>
<text transform="translate(1574.64 1854.00) scale(1.3283 1)" font-size="18.20">Enrichment Ratio</text>
<rect x="1806.60" y="1745.80" width="21.50" height="33.80" fill="#8CE090"/>
<rect x="1806.60" y="1778.40" width="21.50" height="32.70" fill="#3850A8"/>
<rect x="1807.00" y="1746.50" width="20.70" height="63.90" fill="none" stroke="#000" stroke-width="1.40"/>
<text transform="translate(1807.52 1731.50) scale(1.1929 1)" font-size="15.50">P value</text>
<text transform="translate(1847.65 1766.60) scale(1.0888 1)" font-size="15.00">0.04</text>
<text transform="translate(1847.34 1805.00) scale(1.0985 1)" font-size="15.00">0.05</text>
<text transform="translate(12.62 1886.70) scale(1.2390 1)" font-size="23.00">(I)</text>
<text transform="translate(201.38 1902.60) scale(1.0635 1)" font-size="26.50">Pathways related to organic oxygen compounds</text>
<text transform="translate(335.94 1947.70) scale(1.3250 1)" font-size="20.80">60 h versus 72 h</text>
<text transform="translate(191.34 1980.10) scale(1.3300 1)" font-size="17.80">Pentose phosphate pathway</text>
<text transform="translate(218.49 2014.30) scale(1.3367 1)" font-size="17.80">Sphingolipid metabolism</text>
<text transform="translate(94.24 2046.10) scale(1.3297 1)" font-size="17.80">Phosphatidylinositol signaling system</text>
<text transform="translate(162.47 2078.40) scale(1.3305 1)" font-size="17.80">Inositol phosphate metabolism</text>
<text transform="translate(0.96 2109.90) scale(1.3338 1)" font-size="17.80">Amino sugar and nucleotide sugar metabolism</text>
<text transform="translate(280.85 2139.50) scale(1.3267 1)" font-size="17.80">Purine metabolism</text>
<rect x="475.30" y="1968.30" width="367.70" height="16.90" fill="#000"/>
<rect x="476.75" y="1969.90" width="364.80" height="13.70" fill="#88DC78"/>
<rect x="475.30" y="2001.50" width="171.40" height="17.20" fill="#000"/>
<rect x="476.75" y="2003.10" width="168.50" height="14.00" fill="#90E3B8"/>
<rect x="475.30" y="2034.20" width="129.40" height="17.20" fill="#000"/>
<rect x="476.75" y="2035.80" width="126.50" height="14.00" fill="#5EB0DC"/>
<rect x="475.30" y="2066.80" width="120.70" height="17.30" fill="#000"/>
<rect x="476.75" y="2068.40" width="117.80" height="14.10" fill="#3C56AC"/>
<rect x="475.30" y="2098.00" width="97.70" height="17.20" fill="#000"/>
<rect x="476.75" y="2099.60" width="94.80" height="14.00" fill="#404EAA"/>
<rect x="475.30" y="2127.90" width="56.20" height="16.90" fill="#000"/>
<rect x="476.75" y="2129.50" width="53.30" height="13.70" fill="#504AAC"/>
<path d="M475.30 2157.20H900.20M475.90 2156.45V2165.40M546.56 2156.45V2165.40M617.22 2156.45V2165.40M687.88 2156.45V2165.40M758.54 2156.45V2165.40M829.20 2156.45V2165.40M899.86 2156.45V2165.40" fill="none" stroke="#000" stroke-width="1.50"/>
<text transform="translate(470.52 2179.90) scale(1.3016 1)" font-size="15.00">0</text>
<text transform="translate(540.41 2179.90) scale(1.2392 1)" font-size="15.00">5</text>
<text transform="translate(605.07 2179.90) scale(1.2348 1)" font-size="15.00">10</text>
<text transform="translate(672.80 2179.90) scale(1.2505 1)" font-size="15.00">15</text>
<text transform="translate(748.25 2179.90) scale(1.2464 1)" font-size="15.00">20</text>
<text transform="translate(824.78 2179.90) scale(1.1964 1)" font-size="15.00">25</text>
<text transform="translate(895.61 2179.90) scale(1.2180 1)" font-size="15.00">30</text>
<text transform="translate(589.84 2199.00) scale(1.3312 1)" font-size="18.20">Enrichment Ratio</text>
<rect x="836.60" y="2042.00" width="18.50" height="19.10" fill="#84D658"/>
<rect x="836.60" y="2059.90" width="18.50" height="19.10" fill="#90E3C4"/>
<rect x="836.60" y="2077.80" width="18.50" height="19.10" fill="#5EB0DC"/>
<rect x="836.60" y="2095.70" width="18.50" height="19.10" fill="#3E5CB0"/>
<rect x="836.60" y="2113.60" width="18.50" height="19.10" fill="#3C52AA"/>
<rect x="836.60" y="2131.50" width="18.50" height="17.90" fill="#4A4CAA"/>
<rect x="837.00" y="2042.70" width="17.70" height="106.00" fill="none" stroke="#000" stroke-width="1.40"/>
<text transform="translate(830.02 2027.40) scale(1.1907 1)" font-size="15.50">P value</text>
<text transform="translate(863.05 2045.00) scale(1.2520 1)" font-size="11.00">0.00</text>
<text transform="translate(864.55 2072.60) scale(1.2483 1)" font-size="11.00">0.05</text>
<text transform="translate(863.65 2107.00) scale(1.2520 1)" font-size="11.00">0.10</text>
<text transform="translate(864.25 2141.80) scale(1.2483 1)" font-size="11.00">0.15</text>
</svg>
</body></html>
